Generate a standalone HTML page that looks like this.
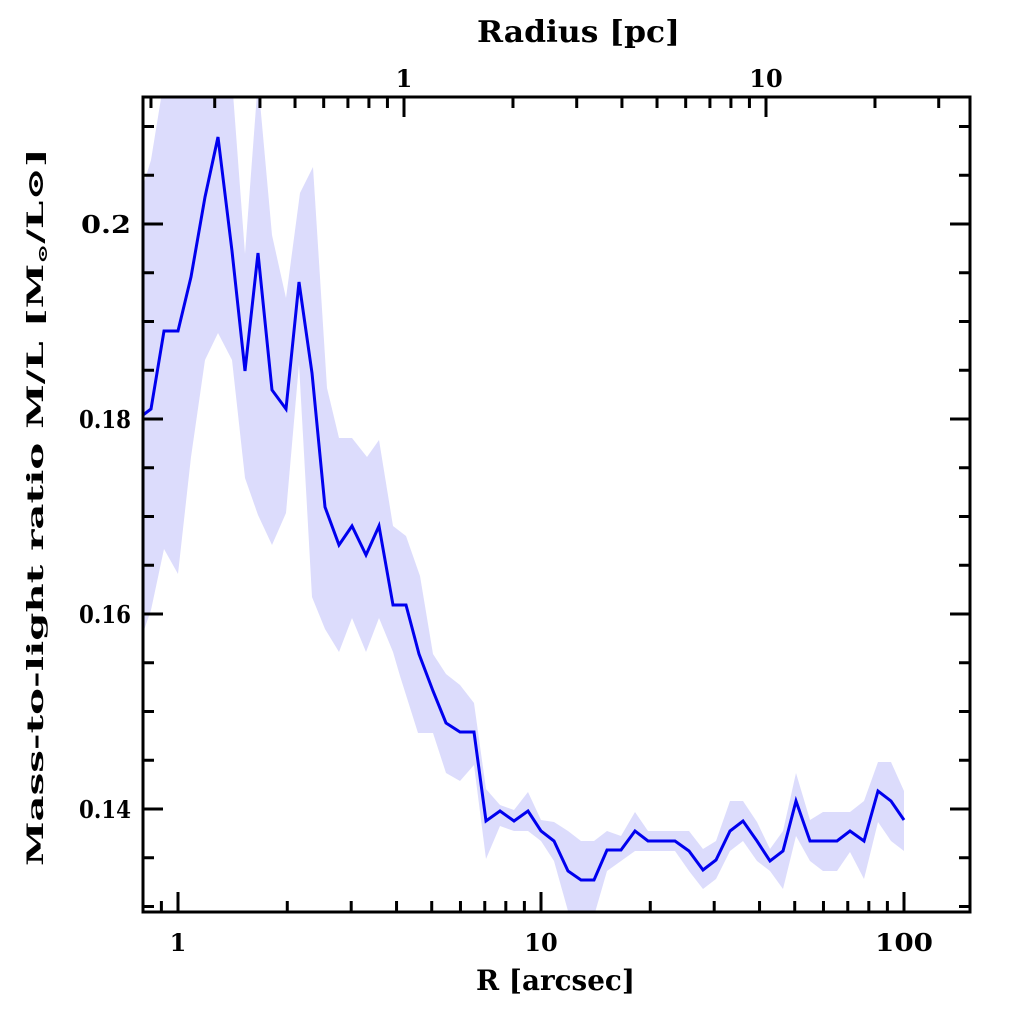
<!DOCTYPE html>
<html><head><style>
html,body{margin:0;padding:0;background:#fff;}
svg{display:block;}
text{font-family:"DejaVu Serif","Liberation Serif",serif;font-weight:bold;fill:#000;}
</style></head><body>
<svg width="1024" height="1024" viewBox="0 0 1024 1024" xmlns="http://www.w3.org/2000/svg">
<defs><clipPath id="c"><rect x="143" y="97" width="827" height="815"/></clipPath></defs>
<g clip-path="url(#c)">
<polygon fill="#dcdcfc" points="
143,186 151,160 164,80 178,80 191,80 205,80 218,80 232,80 245,254 258,80 272,235 286,298 300,193 313,167 327,388 339,438 352,438 367,457 379,440 393,526 406,536 420,576 433,654 446,674 460,685 474,703 486,789 500,805 514,810 528,792 541,820 554,822 568,831 581,841 594,841 607,831 621,836 635,812 648,831 662,831 675,831 689,831 703,849 716,841 730,801 743,801 757,822 770,849 783,831 796,773 810,820 823,812 837,812 850,812 864,801 878,762 891,762 904,791
904,851 891,841 878,822 864,879 850,852 837,871 823,871 810,861 796,836 783,889 770,871 757,861 743,841 730,851 716,879 703,889 689,871 675,851 662,851 648,851 635,851 621,861 607,871 594,916 581,916 568,911 554,861 541,841 528,831 514,831 500,826 486,859 474,765 460,781 446,773 433,733 418,733 400,676 393,652 379,618 366,652 352,618 339,652 325,629 312,597 299,364 286,513 272,545 258,515 245,478 232,360 218,333 205,360 191,457 178,574 164,549 151,610 143,633"/>
<polyline fill="none" stroke="#0000ee" stroke-width="3" stroke-linejoin="miter" points="
143,415 151,409 164,331 178,331 191,277 205,197 218,137 232,251 245,371 258,253 272,390 286,409 299,282 312,373 325,507 339,545 352,526 366,555 379,526 393,605 406,605 419,654 433,691 446,723 460,732 474,732 486,821 500,811 514,821 528,811 541,831 554,841 568,871 581,880 594,880 607,850 621,850 635,831 648,841 662,841 675,841 689,851 703,870 716,860 730,831 743,821 757,841 770,861 783,851 796,801 810,841 823,841 837,841 850,831 864,841 878,791 891,801 904,820"/>
</g>
<g id="ticks" stroke="#000" stroke-width="3"></g>
<rect x="143" y="97" width="827" height="815" fill="none" stroke="#000" stroke-width="3"/>
<g font-size="24" text-anchor="end">
<text x="131" y="233" textLength="50" lengthAdjust="spacingAndGlyphs">0.2</text>
<text x="131" y="428" textLength="52" lengthAdjust="spacingAndGlyphs">0.18</text>
<text x="131" y="623" textLength="52" lengthAdjust="spacingAndGlyphs">0.16</text>
<text x="131" y="818" textLength="52" lengthAdjust="spacingAndGlyphs">0.14</text>
</g>
<g font-size="24" text-anchor="middle">
<text x="178" y="951">1</text>
<text x="541" y="951">10</text>
<text x="904" y="951" textLength="58" lengthAdjust="spacingAndGlyphs">100</text>
<text x="404" y="87">1</text>
<text x="766" y="87">10</text>
</g>
<text x="476" y="990" font-size="28" textLength="159" lengthAdjust="spacingAndGlyphs">R [arcsec]</text>
<text x="477" y="42" font-size="30" textLength="203" lengthAdjust="spacingAndGlyphs">Radius [pc]</text>
<text transform="translate(43,866) rotate(-90)" font-size="22" textLength="718" lengthAdjust="spacingAndGlyphs">Mass-to-light ratio M/L [M<tspan font-size="13" dy="4">⊙</tspan><tspan dy="-4">/L⊙]</tspan></text>
</svg>
<script>
(function(){
var g=document.getElementById('ticks'),s='';
function L(x1,y1,x2,y2){s+='<line x1="'+x1+'" y1="'+y1+'" x2="'+x2+'" y2="'+y2+'"/>';}
var L0=143,R0=970,T=97,B=912;
for(var v=0.13;v<=0.2126;v+=0.005){var y=224+(0.2-v)*9750;if(y<T+1||y>B-1)continue;
var maj=Math.abs((v*100)%2)<0.01||Math.abs((v*100)%2-2)<0.01;var len=maj?20:11;
L(L0,y,L0+len,y);L(R0,y,R0-len,y);}
function xa(v){return 178+363*Math.log10(v);}
for(var d=-1;d<=2;d++){for(var m=1;m<10;m++){var v=m*Math.pow(10,d);var x=xa(v);if(x<L0+1||x>R0-1)continue;var len=m==1?20:11;L(x,B,x,B-len);}}
function xp(v){return 404+362*Math.log10(v);}
for(var d=-2;d<=2;d++){for(var m=1;m<10;m++){var v=m*Math.pow(10,d);var x=xp(v);if(x<L0+1||x>R0-1)continue;var len=m==1?20:11;L(x,T,x,T+len);}}
g.innerHTML=s;
})();
</script>
</body></html>
